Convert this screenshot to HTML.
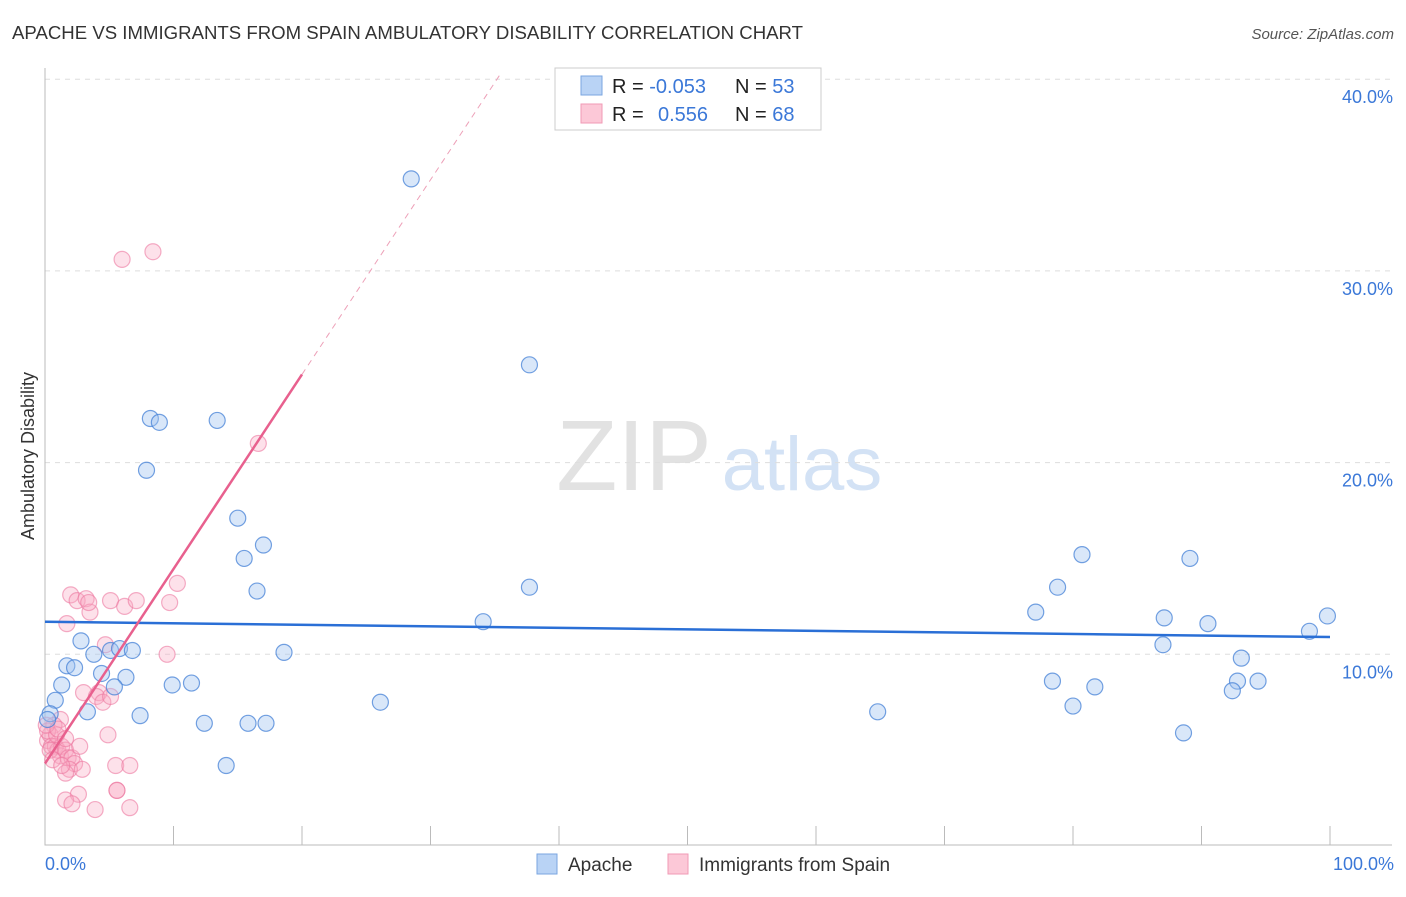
<!DOCTYPE html>
<html><head><meta charset="utf-8"><style>
body{margin:0;background:#fff;font-family:"Liberation Sans",sans-serif}
svg text{font-family:"Liberation Sans",sans-serif}
</style></head><body>
<svg width="1406" height="892" xmlns="http://www.w3.org/2000/svg" id="chart">
<text x="12" y="39" font-size="18.6" fill="#333" textLength="791">APACHE VS IMMIGRANTS FROM SPAIN AMBULATORY DISABILITY CORRELATION CHART</text>
<text x="1394" y="39" font-size="15" fill="#555" font-style="italic" text-anchor="end">Source: ZipAtlas.com</text>
<text x="34" y="456" font-size="18" fill="#333" transform="rotate(-90 34 456)" text-anchor="middle">Ambulatory Disability</text>
<g><text x="634" y="490" font-size="100" font-family="Liberation Serif" fill="#e2e2e2" text-anchor="middle">ZIP</text><text x="802" y="490" font-size="76" fill="#d3e2f5" text-anchor="middle">atlas</text></g>
<g id="grid"></g><g id="axes"></g><g id="pts"></g><g id="lines"></g>
<g>
<rect x="555" y="68" width="266" height="62" fill="#fff" stroke="#ccc"/>
<rect x="581" y="76" width="21" height="19" fill="#b9d3f5" stroke="#7aa6e0"/>
<rect x="581" y="104" width="21" height="19" fill="#fcc8d7" stroke="#f09ab5"/>
<text x="612" y="93" font-size="20" fill="#222">R = <tspan fill="#3b78d8">-0.053</tspan><tspan x="735">N = </tspan><tspan fill="#3b78d8">53</tspan></text>
<text x="612" y="121" font-size="20" fill="#222">R = <tspan x="658" fill="#3b78d8">0.556</tspan><tspan x="735">N = </tspan><tspan fill="#3b78d8">68</tspan></text>
</g>
<g>
<rect x="537" y="854" width="20" height="20" fill="#b9d3f5" stroke="#7aa6e0"/>
<text x="568" y="871" font-size="19" fill="#333">Apache</text>
<rect x="668" y="854" width="20" height="20" fill="#fcc8d7" stroke="#f09ab5"/>
<text x="699" y="871" font-size="19" fill="#333">Immigrants from Spain</text>
</g>
<text x="45" y="870" font-size="18" fill="#3b78d8">0.0%</text>
<text x="1394" y="870" font-size="18" fill="#3b78d8" text-anchor="end">100.0%</text>
</svg>
<script>
const yTicks=[10,20,30,40];
const apacheX=[28.5,37.7,8.2,8.9,13.4,7.9,15,15.5,17,16.5,37.7,34.1,2.8,3.8,5.1,5.8,6.8,1.7,2.3,1.3,4.4,6.3,5.4,9.9,11.4,18.6,0.8,3.3,7.4,12.4,15.8,17.2,14.1,26.1,64.8,80.7,78.8,77.1,87.1,89.1,90.5,87,93.1,78.4,81.7,80,92.8,94.4,92.4,88.6,98.4,99.8,0.4,0.2];
const apacheY=[34.8,25.1,22.3,22.1,22.2,19.6,17.1,15,15.7,13.3,13.5,11.7,10.7,10,10.2,10.3,10.2,9.4,9.3,8.4,9,8.8,8.3,8.4,8.5,10.1,7.6,7,6.8,6.4,6.4,6.4,4.2,7.5,7,15.2,13.5,12.2,11.9,15,11.6,10.5,9.8,8.6,8.3,7.3,8.6,8.6,8.1,5.9,11.2,12,6.9,6.6];
const spainX=[6,8.4,16.6,10.3,9.7,2,2.5,3.2,3.5,3.4,5.1,6.2,7.1,1.7,4.7,9.5,3,4.2,4,4.5,5.1,1.2,4.9,0.7,0.2,0.4,0.5,0.8,1,1.2,1.3,1.6,1.8,2.1,2.3,1.9,2.7,2.9,1.6,2.6,1.6,2.1,3.9,5.6,5.5,6.6,6.6,5.6,0.2,0.4,0.6,0.9,1.3,0.1,1,1.6];
const spainY=[30.6,31,21,13.7,12.7,13.1,12.8,12.9,12.2,12.7,12.8,12.5,12.8,11.6,10.5,10,8.0,8.0,7.8,7.5,7.8,6.6,5.8,6.3,5.5,5.8,5.2,5.2,5,4.7,5.2,5,4.6,4.6,4.3,4,5.2,4,3.8,2.7,2.4,2.2,1.9,2.9,4.2,4.2,2.0,2.9,6.0,5,4.5,5.8,4.2,6.3,6.1,5.6];
const apacheFit=[11.7,10.9];
const spainFit=[4.3,24.6];
const NS="http://www.w3.org/2000/svg";
const X=v=>45+v*12.85, Y=v=>846-v*19.17;
function mk(tag,attrs,parent){const e=document.createElementNS(NS,tag);for(const k in attrs)e.setAttribute(k,attrs[k]);parent.appendChild(e);return e;}
const grid=document.getElementById('grid'),axes=document.getElementById('axes'),pts=document.getElementById('pts'),lines=document.getElementById('lines');
yTicks.forEach(t=>{
 const l=mk('line',{x1:45,x2:1392,y1:Y(t),y2:Y(t),stroke:'#ddd','stroke-dasharray':'5,5'},grid);
 
 
 const tx=mk('text',{x:1393,y:Y(t)+24,'font-size':18,fill:'#3b78d8','text-anchor':'end'},grid);
 tx.textContent=t.toFixed(1)+'%';
 
 
});
const ax=mk('path',{d:'M45 68V845H1392',stroke:'#bbb',fill:'none'},axes);


for(let i=0;i<=10;i++){const t=mk('line',{x1:X(i*10),x2:X(i*10),y1:826,y2:845,stroke:'#bbb'},axes);
 
 }
spainX.forEach((v,i)=>{const c=mk('circle',{cx:X(v),cy:Y(spainY[i]),r:8,fill:'rgba(248,170,195,0.35)',stroke:'rgba(236,120,160,0.6)','stroke-width':1.2},pts);
 
 });
apacheX.forEach((v,i)=>{const c=mk('circle',{cx:X(v),cy:Y(apacheY[i]),r:8,fill:'rgba(160,195,240,0.4)',stroke:'rgba(70,130,215,0.75)','stroke-width':1.2},pts);
 
 });
const a=mk('line',{x1:X(0),y1:Y(apacheFit[0]),x2:X(100),y2:Y(apacheFit[1]),stroke:'#2a6fd6','stroke-width':2.5},lines);


const slope=(spainFit[1]-spainFit[0])/20;
const s=mk('line',{x1:X(0),y1:Y(spainFit[0]),x2:X(20),y2:Y(spainFit[1]),stroke:'#e8608e','stroke-width':2.5},lines);


const xe=(40.2-spainFit[0])/slope;
const d=mk('line',{x1:X(20),y1:Y(spainFit[1]),x2:X(xe),y2:Y(40.2),stroke:'#eda0b8','stroke-width':1,'stroke-dasharray':'6,5'},lines);


</script>
</body></html>
